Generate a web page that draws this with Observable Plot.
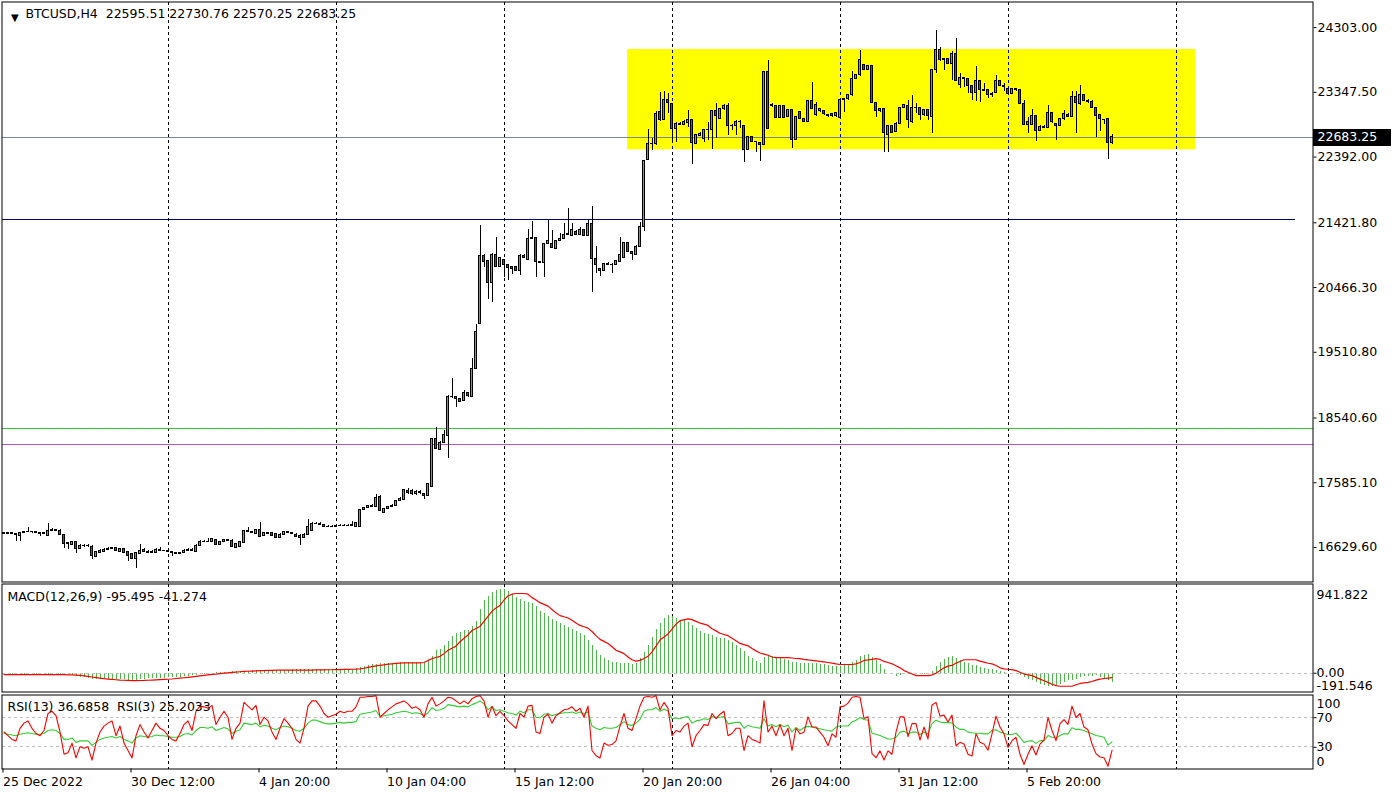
<!DOCTYPE html>
<html><head><meta charset="utf-8">
<script src="https://cdn.jsdelivr.net/npm/d3@7"></script>
<script src="https://cdn.jsdelivr.net/npm/@observablehq/plot@0.6"></script>
<style>
body{margin:0;background:#fff;}
#chart{position:relative;width:1392px;height:795px;overflow:hidden;}
#chart svg{position:absolute;left:0;}
#chart svg text{white-space:pre;}
</style></head><body><div id="chart"></div>
<script>
// ---------- data ----------
const symbol = "BTCUSD", timeframe = "H4";
const opens = [16846,16831,16841,16831,16806,16841,16855,16860,16851,16841,16836,16806,16880,16885,16880,16821,16683,16668,16708,16609,16659,16649,16644,16486,16545,16570,16600,16609,16624,16560,16609,16560,16536,16457,16536,16600,16570,16550,16555,16600,16580,16575,16560,16545,16536,16550,16585,16600,16560,16649,16718,16713,16708,16742,16673,16708,16742,16732,16624,16634,16698,16870,16855,16831,16890,16806,16841,16846,16831,16772,16821,16855,16846,16821,16806,16772,16821,16880,16978,16983,16964,16939,16929,16939,16944,16954,16949,16954,16939,16939,17190,17210,17224,17224,17372,17141,17200,17224,17249,17313,17338,17461,17466,17416,17451,17421,17387,17520,18233,18076,18174,18282,18858,18848,18824,18794,18907,18848,19261,19931,20939,20851,20531,20949,20767,20875,20792,20767,20767,20708,20939,20875,21185,21200,20841,20831,21111,21111,21038,21151,21185,21244,21234,21293,21244,21318,21234,21407,20890,20742,20708,20816,20801,20792,20841,20905,21126,20998,20954,21062,21357,22352,22578,22578,23055,22932,23237,23168,22809,22883,22868,22893,22932,22588,22701,22652,22794,22794,23065,22952,23095,23139,22849,22858,22917,22844,22499,22681,22612,22598,22573,23650,23144,23144,22972,23144,22981,23080,22647,23055,22952,22917,23213,23006,23065,23070,23016,23021,22991,22972,23237,23242,23301,23547,23596,23754,23680,23729,23193,23065,23104,22711,22844,22760,22883,23114,23153,22907,23119,23119,23006,23089,22981,23670,23965,23818,23842,23768,23906,23463,23562,23537,23434,23340,23508,23385,23375,23311,23340,23508,23439,23390,23326,23390,23375,23178,22868,22868,22991,22775,22843,22824,23045,22883,22848,22947,23016,22981,23286,23178,23301,23217,23212,23119,23006,22942,22947,22595.51];
const highs = [16855,16851,16846,16841,16846,16866,16929,16870,16860,16851,16855,16978,16905,16895,16890,16826,16708,16718,16718,16673,16673,16668,16654,16575,16600,16614,16624,16634,16634,16619,16619,16570,16545,16555,16668,16609,16580,16580,16609,16634,16590,16585,16570,16555,16560,16595,16609,16609,16668,16728,16728,16767,16767,16752,16718,16752,16752,16742,16693,16718,16880,16929,16865,16900,16993,16851,16851,16855,16841,16831,16865,16865,16855,16831,16816,16831,17037,16993,16998,16993,16973,16949,16949,16954,16964,16964,16964,17018,16998,17195,17224,17254,17264,17406,17397,17210,17239,17264,17323,17372,17490,17495,17480,17466,17466,17430,17580,18245,18396,18190,18356,18870,19119,18860,18835,18947,18920,19414,19921,21382,20950,20860,20965,21205,20915,20885,20800,20780,20780,20950,20950,21323,21441,21210,20850,21120,21456,21308,21160,21259,21407,21628,21416,21305,21357,21330,21456,21662,21072,20750,20825,20830,20815,20860,21210,21135,21135,21005,21080,21421,22340,22794,22662,23060,23350,23365,23326,23180,22895,22895,22930,23080,22940,22720,22750,22805,22908,23075,23178,23105,23168,23178,22870,22925,22925,22855,22695,22690,22620,22610,23660,23818,23178,23154,23154,23154,23090,23090,22991,23065,22960,23222,23498,23203,23115,23080,23025,23030,23050,23247,23262,23311,23660,23606,23965,23765,23740,23740,23203,23115,23115,22860,22855,22895,23125,23165,23227,23301,23178,23130,23100,23100,23690,24260,24014,23852,23852,23950,24147,23631,23572,23547,23444,23729,23518,23483,23385,23340,23596,23522,23473,23400,23400,23405,23385,23227,22981,23094,23000,22853,22853,23153,23055,22893,22957,23080,23030,23360,23360,23449,23311,23237,23222,23130,23016,22952,22957,22730.76];
const lows = [16826,16826,16821,16718,16723,16836,16846,16841,16831,16791,16826,16801,16870,16870,16806,16609,16595,16659,16545,16600,16634,16634,16447,16476,16540,16560,16590,16600,16575,16550,16536,16427,16447,16324,16531,16560,16540,16545,16545,16570,16565,16550,16496,16521,16531,16545,16580,16565,16555,16644,16703,16698,16703,16663,16663,16703,16713,16624,16614,16629,16693,16846,16836,16826,16782,16796,16821,16786,16762,16762,16816,16836,16821,16772,16659,16762,16811,16870,16968,16954,16929,16919,16919,16929,16934,16939,16944,16944,16934,16934,17180,17200,17215,17215,17165,17131,17190,17215,17239,17303,17330,17407,17400,17402,17410,17338,17380,17510,18076,18060,18165,17938,18835,18701,18770,18784,18850,18840,19250,19920,20767,20285,20241,20757,20757,20619,20570,20659,20700,20644,20895,20865,21175,20619,20820,20610,21100,21040,21030,21140,21175,21234,21225,21230,21234,21215,21225,20398,20669,20629,20700,20790,20669,20785,20835,20895,20980,20865,20945,21055,21298,22340,22489,22570,22920,22925,23031,22598,22603,22855,22860,22834,22278,22580,22690,22612,22637,22499,22662,22945,23085,22711,22785,22711,22809,22317,22490,22600,22465,22332,22565,22800,23130,22960,22960,22960,22970,22524,22637,22940,22908,22908,23095,22995,23055,23010,22980,22980,22980,22965,23055,23232,23290,23537,23586,23670,23670,23180,22981,23055,22455,22465,22740,22750,22875,23105,22809,22883,23030,22932,22996,22932,22745,23631,23808,23670,23758,23522,23512,23399,23424,23326,23227,23212,23203,23355,23262,23276,23330,23430,23360,23316,23316,23365,23168,22858,22745,22858,22627,22765,22814,22814,22883,22637,22838,22937,22971,22971,22745,23153,23207,23178,23109,22676,22770,22873,22351,22570.25];
const closes = [16831,16841,16831,16816,16841,16855,16860,16851,16841,16836,16846,16880,16885,16880,16816,16683,16693,16708,16609,16659,16649,16654,16511,16560,16585,16600,16609,16619,16585,16609,16545,16511,16457,16545,16585,16570,16550,16570,16600,16580,16575,16560,16545,16536,16550,16585,16600,16575,16659,16718,16713,16708,16757,16673,16708,16742,16723,16634,16683,16708,16870,16855,16846,16890,16791,16841,16831,16796,16772,16821,16855,16846,16831,16782,16772,16821,16929,16978,16983,16964,16939,16929,16939,16944,16954,16949,16954,16959,16988,17185,17210,17239,17249,17362,17175,17200,17224,17249,17313,17347,17480,17441,17416,17451,17430,17387,17569,18233,18086,18174,18292,18858,18848,18824,18784,18912,18863,19266,19817,20939,20841,20531,20954,20767,20905,20792,20760,20733,20708,20939,20905,21185,21200,20841,20831,21111,21146,21052,21151,21185,21244,21259,21318,21244,21318,21225,21407,20890,20792,20708,20816,20801,20806,20851,20954,21126,20988,20964,21072,21367,22331,22578,22588,23031,22932,23237,23188,22809,22883,22868,22917,22932,22603,22711,22735,22794,22790,23065,22991,23095,23139,22849,22858,22917,22912,22499,22686,22612,22608,22573,23650,22809,23163,22972,23144,22972,23080,22647,22981,22947,22917,23213,23104,23163,23104,23021,22991,22991,23040,23237,23252,23301,23547,23596,23818,23680,23729,23193,23065,23104,22750,22849,22750,22883,23114,23154,22942,23119,23114,23006,23089,22996,23680,23965,23818,23842,23768,23906,23522,23562,23537,23434,23340,23508,23385,23365,23311,23330,23508,23439,23424,23326,23390,23375,23178,22868,22917,22991,22775,22843,22824,23045,22907,22848,22947,23021,22981,23286,23188,23301,23217,23212,23119,22996,22957,22932,22597,22683.25];

const macdMain = [-5,-6,-6,-7,-7,-6,-5,-5,-6,-6,-6,-4,-3,-3,-4,-8,-12,-20,-28,-35,-42,-50,-58,-62,-64,-65,-64,-63,-62,-63,-64,-66,-68,-68,-62,-58,-55,-52,-50,-48,-45,-42,-40,-38,-35,-30,-25,-22,-15,-10,-6,-2,5,10,12,14,17,20,22,24,26,28,30,32,33,34,35,36,37,38,38,39,40,40,41,40,42,45,46,46,45,44,43,43,45,46,47,48,50,62,75,85,92,100,105,106,108,110,112,114,
115,115,115,115,115,112,133,183,240,258,293,343,389,418,436,450,454,496,550,675,771,810,853,870,888,881,863,835,799,774,756,746,739,703,650,628,603,568,550,525,507,489,468,443,418,397,347,300,240,194,158,140,122,115,112,104,104,101,104,158,218,300,382,461,532,575,610,596,585,561,561,539,503,471,443,425,407,397,382,372,365,347,325,300,265,229,183,158,133,112,169,183,183,169,158,147,140,122,122,104,
104,104,104,104,97,97,87,76,76,76,87,87,122,140,183,194,204,169,140,97,40,5,-10,-27,-20,-13,-13,-2,-2,-10,-13,-10,26,76,122,147,169,183,158,140,122,104,87,87,62,51,40,40,33,26,15,-2,-2,-10,-20,-38,-56,-74,-91,-109,-127,-138,-138,-127,-116,-91,-74,-67,-56,-38,-31,-27,-27,-20,-38,-49,-67,-95.495];
const macdSignal = [-9,-9,-9,-9,-9,-9,-9,-9,-9,-9,-9,-9,-9,-9,-9,-10,-11,-12,-15,-18,-22,-28,-34,-40,-46,-52,-56,-60,-63,-66,-68,-70,-72,-72,-71,-70,-68,-66,-64,-62,-60,-58,-55,-50,-46,-42,-38,-33,-28,-22,-17,-12,-7,-3,2,6,10,14,18,21,24,26,28,30,32,33,35,36,37,38,38,38,38,38,38,38,38,39,40,40,41,42,42,43,44,45,46,47,48,52,58,66,74,82,88,94,100,104,108,112,
115,115,115,115,115,118,140,158,170,183,211,247,268,290,336,372,407,454,475,496,550,603,657,690,717,774,817,835,842,842,842,835,799,774,746,728,710,675,639,610,598,585,561,532,507,493,479,443,400,361,340,318,283,247,229,211,176,147,133,140,160,183,229,290,354,386,418,468,521,557,566,575,568,550,532,520,507,472,450,425,412,400,372,347,318,305,293,265,240,218,206,194,176,169,169,169,169,165,160,158,
151,145,140,135,129,124,118,112,104,97,97,97,97,104,118,140,145,151,158,150,129,118,104,83,62,33,15,-2,-20,-20,-20,-20,-12,5,33,62,80,87,112,129,147,147,147,147,133,122,110,104,87,62,51,47,44,33,15,-2,-12,-20,-38,-56,-74,-91,-110,-125,-131,-131,-131,-131,-116,-102,-96,-91,-81,-67,-56,-50,-45,-41.274];

const rsi13 = [48,47,46,45,47,48,49,48,47,47,48,52,53,52,48,40,40,42,36,38,38,38,32,36,40,42,43,44,42,44,40,38,35,42,45,44,43,44,46,45,45,44,43,43,44,47,48,46,52,56,56,55,57,52,54,56,54,48,51,53,62,61,60,62,57,59,58,55,53,56,58,57,55,52,51,55,62,66,66,64,62,61,61,62,63,62,63,63,64,74,75,76,77,79,71,72,73,74,76,77,78,77,75,76,75,72,76,83,79,80,82,87,86,85,84,85,84,87,89,92,88,80,84,79,80,78,76,75,73,78,76,80,80,70,69,74,75,72,74,75,76,76,77,75,77,74,77,58,55,53,56,55,55,56,60,64,60,59,62,67,78,80,80,83,78,81,78,68,69,68,70,71,62,65,66,68,67,71,69,70,71,61,62,63,63,55,59,57,56,55,68,58,60,57,60,57,59,50,56,
52,56,57.6,56.7,55.5,54.4,53,52,51.2,56.7,58.1,58.1,58.1,63.6,65.9,69.6,66.8,65.9,48.4,47,45.2,43,40.6,40.6,42.9,49.8,51.2,47.5,49.8,49.8,46.6,49.8,47.5,61.3,65.9,63.6,62.7,62.7,62.2,56.7,53.5,53.5,49.8,48.9,48.4,48.4,47.5,47.5,52,53,49.8,48.4,46.6,46.6,48.4,42.9,36,37.4,38.3,34.6,38.3,38.3,45.2,42.9,42,45.2,47.5,47.5,55.8,53.5,53.5,52,49.8,47.5,45.2,44.3,42.9,32.3,36.6858];
const rsi3 = [50,45,40,38,55,62,65,55,48,45,52,75,78,72,50,20,22,35,15,30,28,30,12,35,50,58,62,65,45,58,35,25,15,45,60,50,42,52,62,55,52,45,40,38,48,60,65,52,78,85,84,82,86,60,70,78,70,40,55,62,90,85,80,86,60,70,65,50,40,55,68,62,55,40,35,55,85,92,92,85,75,70,72,74,78,76,78,78,84,97,97,98,98,99,70,75,80,84,88,90,92,88,82,84,80,70,88,97,85,88,92,97,96,92,88,92,88,95,98,99,92,70,85,72,78,72,65,60,55,75,70,85,86,50,48,70,74,62,72,76,80,81,84,78,82,70,85,25,18,15,35,32,33,38,58,75,55,52,68,85,97,98,97,99,80,90,82,45,52,50,58,62,30,45,52,60,59,75,68,74,78,45,48,55,55,25,45,40,38,35,92,50,58,45,60,45,55,25,55,
47.5,49.8,70.5,56.7,56.7,49.8,42.9,31.4,47.5,42.9,84,85,89,97,98,97,68.2,70.5,20.8,15.3,24.5,12.1,24.5,19.9,49.8,70.5,70.5,43.8,61.3,61.3,39.2,56.7,40.6,86.6,90,71.4,72.8,63.6,72.8,31.4,36,33.7,19.9,17.6,47.5,36,33.7,25.4,47.5,71.4,56.7,47.5,29.1,38.3,42.9,19.9,6.1,19.9,31.4,19,33.7,39.2,69.6,52,38.3,61.3,66.8,60.4,85,69.6,75,56.7,53,33.7,20.8,16.2,15.3,3.8,25.2033];

const priceTicks = [24303.00, 23347.50, 22392.00, 21421.80, 20466.30, 19510.80, 18540.60, 17585.10, 16629.60];
const timeLabels = ["25 Dec 2022","30 Dec 12:00","4 Jan 20:00","10 Jan 04:00","15 Jan 12:00","20 Jan 20:00","26 Jan 04:00","31 Jan 12:00","5 Feb 20:00"];
const timeLabelBars = [0,32,64,96,128,160,192,224,256];
const gridBars = [41,83,125,167,209,251,293];
const bidPrice = 22683.25;
const navyLevel = 21468, navyEndBar = 322.75;
const greenLevel = 18382, purpleLevel = 18146;
const zone = {bar1: 155.9, bar2: 297.9, bottom: 22499, top: 23980};
const macdRange = [-191.546, 941.822];
const rsiLevels = [70, 30];

// ---------- rows ----------
const last = closes.length - 1;
const candles = closes.map((c, i) => ({i, o: opens[i], h: highs[i], l: lows[i], c}));
const macdRows = macdMain.map((v, i) => ({i, v, s: macdSignal[i]}));
const rsiRows = rsi13.map((v, i) => ({i, a: v, b: rsi3[i]}));

const xDomain = [-0.5, 327.25];
const W = 1392, mL = 1.5, mR = 79.5;
const style = {fontFamily: '"DejaVu Sans", sans-serif', fontSize: "12.5px", background: "transparent", overflow: "visible", color: "#000"};
const crisp = {shapeRendering: "crispEdges"};
const gridMark = () => Plot.ruleX(gridBars, {stroke: "#000", strokeDasharray: "3,3", ...crisp});

const f2 = d => d.toFixed(2);
const header = `${symbol},${timeframe}  ${f2(opens[last])} ${f2(highs[last])} ${f2(lows[last])} ${f2(closes[last])}`;

// ---------- main price panel ----------
const main = Plot.plot({
  width: W, height: 582, marginTop: 1.5, marginBottom: 0.5, marginLeft: mL, marginRight: mR,
  x: {domain: xDomain, axis: null},
  y: {domain: [16120.4, 24680.8]},
  style,
  marks: [
    gridMark(),
    Plot.rect([zone], {x1: "bar1", x2: "bar2", y1: "bottom", y2: "top", fill: "#ffff00"}),
    Plot.ruleX(gridBars.filter(b => b > zone.bar1 && b < zone.bar2), {y1: zone.bottom, y2: zone.top, stroke: "#0000ff", strokeDasharray: "3,3", ...crisp}),
    Plot.ruleY([bidPrice], {stroke: "#778899", ...crisp}),
    Plot.ruleY([navyLevel], {x1: xDomain[0], x2: navyEndBar, stroke: "#000080", ...crisp}),
    Plot.ruleY([greenLevel], {stroke: "#33cc33", ...crisp}),
    Plot.ruleY([purpleLevel], {stroke: "#bb55cc", ...crisp}),
    Plot.ruleX(candles, {x: "i", y1: "l", y2: "h", stroke: "#000", ...crisp}),
    Plot.rect(candles, {x1: d => d.i - 0.25, x2: d => d.i + 0.25, y1: "o", y2: "c",
      fill: d => d.c >= d.o ? "#33cc33" : "#dd2020", stroke: "#000", ...crisp}),
    Plot.frame({stroke: "#000"}),
    Plot.axisY(priceTicks, {anchor: "right", tickSize: 3, tickPadding: 1.5, tickFormat: f2, label: null}),
    Plot.ruleY([bidPrice], {x1: xDomain[1] + 0.1, x2: xDomain[1] + 19.6, stroke: "#000", strokeWidth: 17, ...crisp}),
    Plot.text([bidPrice], {y: d => d, x: xDomain[1], dx: 4.5, textAnchor: "start", fill: "#fff", text: f2}),
    Plot.text(["\u25BC"], {frameAnchor: "top-left", dx: 9, dy: 11.5, fontSize: 10}),
    Plot.text([header], {frameAnchor: "top-left", dx: 23.5, dy: 12.3, lineAnchor: "middle", textAnchor: "start"})
  ]
});

// ---------- MACD panel ----------
const macdPlot = Plot.plot({
  width: W, height: 111, marginTop: 1.5, marginBottom: 1.5, marginLeft: mL, marginRight: mR,
  x: {domain: xDomain, axis: null},
  y: {domain: macdRange},
  style,
  marks: [
    gridMark(),
    Plot.ruleX(macdRows, {x: "i", y1: 0, y2: "v", stroke: "#4cb84c", ...crisp}),
    Plot.ruleY([0], {stroke: "#c0c0c0", strokeDasharray: "3,3", ...crisp}),
    Plot.line(macdRows, {x: "i", y: "s", stroke: "#ff0000", strokeWidth: 1.2}),
    Plot.frame({stroke: "#000"}),
    Plot.axisY([macdRange[1]], {anchor: "right", tickSize: 0, tickPadding: 3.5, dy: 10.5, tickFormat: d => d.toFixed(3), label: null}),
    Plot.axisY([0], {anchor: "right", tickSize: 3, tickPadding: 0.5, dy: -0.5, tickFormat: f2, label: null}),
    Plot.axisY([macdRange[0]], {anchor: "right", tickSize: 0, tickPadding: 3.5, dy: -6.5, tickFormat: d => d.toFixed(3), label: null}),
    Plot.text([`MACD(12,26,9) ${macdMain[last].toFixed(3)} ${macdSignal[last].toFixed(3)}`],
      {frameAnchor: "top-left", dx: 5.5, dy: 12.5, lineAnchor: "middle", textAnchor: "start"})
  ]
});

// ---------- RSI panel ----------
const rsiPlot = Plot.plot({
  width: W, height: 102, marginTop: 1.5, marginBottom: 26.5, marginLeft: mL, marginRight: mR,
  x: {domain: xDomain},
  y: {domain: [0, 100]},
  style,
  marks: [
    gridMark(),
    Plot.ruleY(rsiLevels, {stroke: "#c0c0c0", strokeDasharray: "3,3", ...crisp}),
    Plot.line(rsiRows, {x: "i", y: "a", stroke: "#33cc33", strokeWidth: 1.1}),
    Plot.line(rsiRows, {x: "i", y: "b", stroke: "#ff0000", strokeWidth: 1.1}),
    Plot.frame({stroke: "#000"}),
    Plot.axisY([100], {anchor: "right", tickSize: 0, tickPadding: 3.5, dy: 8.5, label: null}),
    Plot.axisY(rsiLevels, {anchor: "right", tickSize: 3, tickPadding: 0.5, dy: 0.5, label: null}),
    Plot.axisY([0], {anchor: "right", tickSize: 0, tickPadding: 3.5, dy: -7.5, label: null}),
    Plot.axisX(timeLabelBars, {anchor: "bottom", tickSize: 4, tickPadding: 4.5, textAnchor: "start", dx: -1, label: null,
      tickFormat: d => timeLabels[timeLabelBars.indexOf(d)]}),
    Plot.text([`RSI(13) ${rsi13[last].toFixed(4)}  RSI(3) ${rsi3[last].toFixed(4)}`],
      {frameAnchor: "top-left", dx: 5.5, dy: 11.5, lineAnchor: "middle", textAnchor: "start"})
  ]
});

const chart = document.getElementById("chart");
main.style.top = "0px";
macdPlot.style.top = "582px";
rsiPlot.style.top = "693px";
chart.append(main, macdPlot, rsiPlot);
</script>
</body></html>
